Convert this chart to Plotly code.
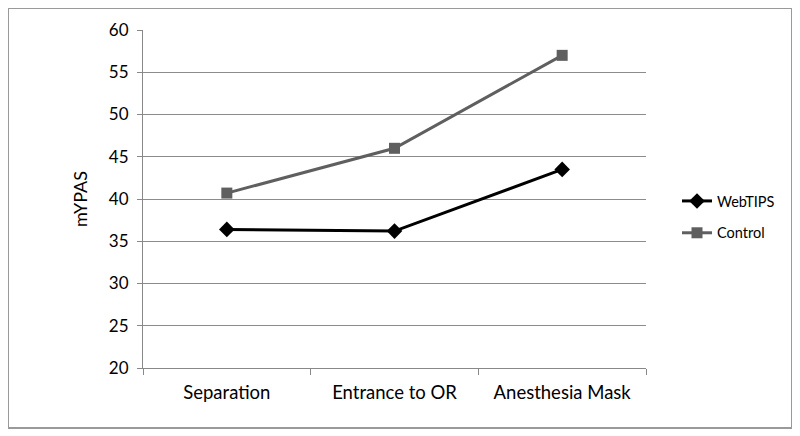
import plotly.graph_objects as go

categories = ["Separation", "Entrance to OR", "Anesthesia Mask"]
webtips = [36.4, 36.2, 43.5]
control = [40.7, 46.0, 57.0]
y_ticks = [20, 25, 30, 35, 40, 45, 50, 55, 60]

FONT = "Lato"
fig = go.Figure()
fig.add_trace(go.Scatter(
    x=categories, y=webtips, name="WebTIPS", mode="lines+markers",
    legendgroup="a",
    line=dict(color="#000000", width=3),
    marker=dict(symbol="diamond", size=12, color="#000000"),
))
fig.add_trace(go.Scatter(
    x=categories, y=control, name="Control", mode="lines+markers",
    legendgroup="b",
    line=dict(color="#5f5f5f", width=3),
    marker=dict(symbol="square", size=11, color="#5f5f5f"),
))

# page has an 8px body margin; compensate
OFF = 8
W, H = 800 - OFF, 436 - OFF
L, R, T, B = 143 - OFF, 154, 30 - OFF, 68
pw, ph = W - L - R, H - T - B
bx0, bx1, by0, by1 = 7 - OFF + 1, 792 - OFF, 7 - OFF + 1, 428 - OFF

fig.update_layout(
    width=W, height=H,
    margin=dict(l=L, r=R, t=T, b=B),
    paper_bgcolor="white", plot_bgcolor="white",
    font=dict(family=FONT, size=16, color="#000000"),
    showlegend=True,
    legend=dict(x=(677 - 143) / 503, y=(368 - 217) / 338, xanchor="left", yanchor="middle",
                font=dict(family=FONT, size=14.5), bgcolor="rgba(0,0,0,0)",
                traceorder="grouped", tracegroupgap=10),
    xaxis=dict(type="category", tickson="boundaries", ticks="outside",
               ticklen=6, tickcolor="#888888", showline=True,
               linecolor="#888888", linewidth=1, showgrid=False,
               range=[-0.5, 2.5], tickfont=dict(size=18.5),
               ticklabelstandoff=8),
    yaxis=dict(range=[20, 60], tickvals=y_ticks, ticks="outside", ticklen=5,
               tickcolor="#888888", showline=True, linecolor="#888888",
               gridcolor="#8c8c8c", gridwidth=1, zeroline=False,
               title=dict(text="mYPAS", font=dict(size=18), standoff=16),
               tickfont=dict(size=17), ticklabelstandoff=5),
    shapes=[dict(type="rect", xref="paper", yref="paper",
                 x0=(bx0 - L) / pw, x1=(bx1 - L) / pw,
                 y0=(H - B - by1) / ph, y1=(H - B - by0) / ph,
                 line=dict(color="#9a9a9a", width=2), fillcolor="rgba(0,0,0,0)",
                 layer="below")],
)

fig.write_html("out.html")
